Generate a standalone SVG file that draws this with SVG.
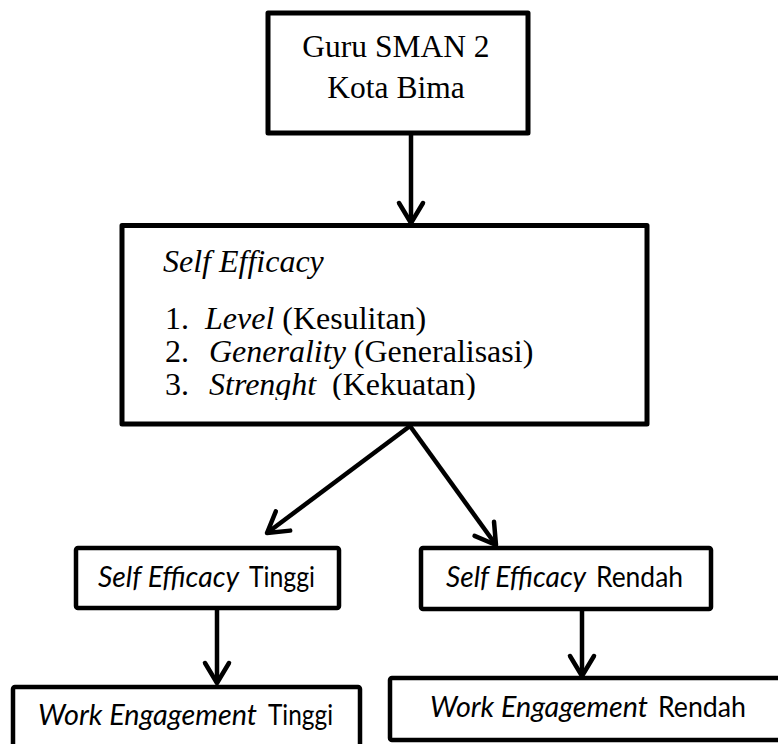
<svg xmlns="http://www.w3.org/2000/svg" width="778" height="744" viewBox="0 0 778 744">
<style>
.box{fill:#fff;stroke:#000;stroke-width:4.5;stroke-linejoin:round}
.big{stroke-width:5}
.serif{font-family:"Liberation Serif","Times New Roman",serif;fill:#000}
.sans{font-family:Lato,"Open Sans","Liberation Sans",sans-serif;font-size:28px;fill:#000}
.it{font-style:italic}
.conn{fill:none;stroke:#000;stroke-width:4.5;stroke-linecap:butt}
</style>
<defs>
<marker id="ah" markerUnits="userSpaceOnUse" markerWidth="30" markerHeight="30" refX="21" refY="12" orient="auto" overflow="visible">
<path d="M1,0 L21,12 L1,24" fill="none" stroke="#000" stroke-width="4.5" stroke-linecap="round" stroke-linejoin="round"/>
</marker>
<clipPath id="midclip"><rect x="124" y="228" width="520" height="172"/></clipPath>
</defs>
<rect width="778" height="744" fill="#fff"/>

<g id="connectors">
<path class="conn" d="M411,135 L411,223" marker-end="url(#ah)"/>
<path class="conn" d="M410,426 L267,533" marker-end="url(#ah)"/>
<path class="conn" d="M410,426 L496,545" marker-end="url(#ah)"/>
<path class="conn" d="M217,610 L217,683" marker-end="url(#ah)"/>
<path class="conn" d="M582,607 L582,676" marker-end="url(#ah)"/>
</g>

<g id="guru">
<rect class="box big" x="268" y="13" width="260" height="120"/>
<text class="serif" font-size="31.5" x="396" y="57" text-anchor="middle">Guru SMAN 2</text>
<text class="serif" font-size="31.5" x="396" y="98" text-anchor="middle">Kota Bima</text>
</g>

<g id="self-efficacy">
<rect class="box big" x="122" y="225.5" width="525" height="198.5"/>
<g clip-path="url(#midclip)" class="serif" font-size="32">
<text x="163" y="272" class="it">Self Efficacy</text>
<text y="329"><tspan x="165">1.</tspan><tspan x="205" class="it">Level</tspan> (Kesulitan)</text>
<text y="362"><tspan x="165">2.</tspan><tspan x="209" class="it">Generality</tspan> (Generalisasi)</text>
<text y="395"><tspan x="165">3.</tspan><tspan x="209" class="it">Strenght</tspan><tspan x="332">(Kekuatan)</tspan></text>
</g>
</g>

<g id="se-tinggi">
<rect class="box" x="76" y="548" width="263" height="60" rx="2"/>
<text class="sans" y="587"><tspan x="98" class="it" textLength="141" lengthAdjust="spacingAndGlyphs">Self Efficacy</tspan><tspan x="249" textLength="66" lengthAdjust="spacingAndGlyphs">Tinggi</tspan></text>
</g>

<g id="se-rendah">
<rect class="box" x="421" y="548" width="290" height="61" rx="2"/>
<text class="sans" y="587"><tspan x="446" class="it" textLength="140" lengthAdjust="spacingAndGlyphs">Self Efficacy</tspan><tspan x="596" textLength="87" lengthAdjust="spacingAndGlyphs">Rendah</tspan></text>
</g>

<g id="we-tinggi">
<rect class="box" x="13" y="687" width="347" height="70" rx="2"/>
<text class="sans" y="725"><tspan x="38" class="it" textLength="219" lengthAdjust="spacingAndGlyphs">Work Engagement</tspan><tspan x="268" textLength="65" lengthAdjust="spacingAndGlyphs">Tinggi</tspan></text>
</g>

<g id="we-rendah">
<rect class="box" x="390" y="678" width="400" height="62" rx="2"/>
<text class="sans" y="717"><tspan x="430" class="it" textLength="218" lengthAdjust="spacingAndGlyphs">Work Engagement</tspan><tspan x="658" textLength="88" lengthAdjust="spacingAndGlyphs">Rendah</tspan></text>
</g>
</svg>
